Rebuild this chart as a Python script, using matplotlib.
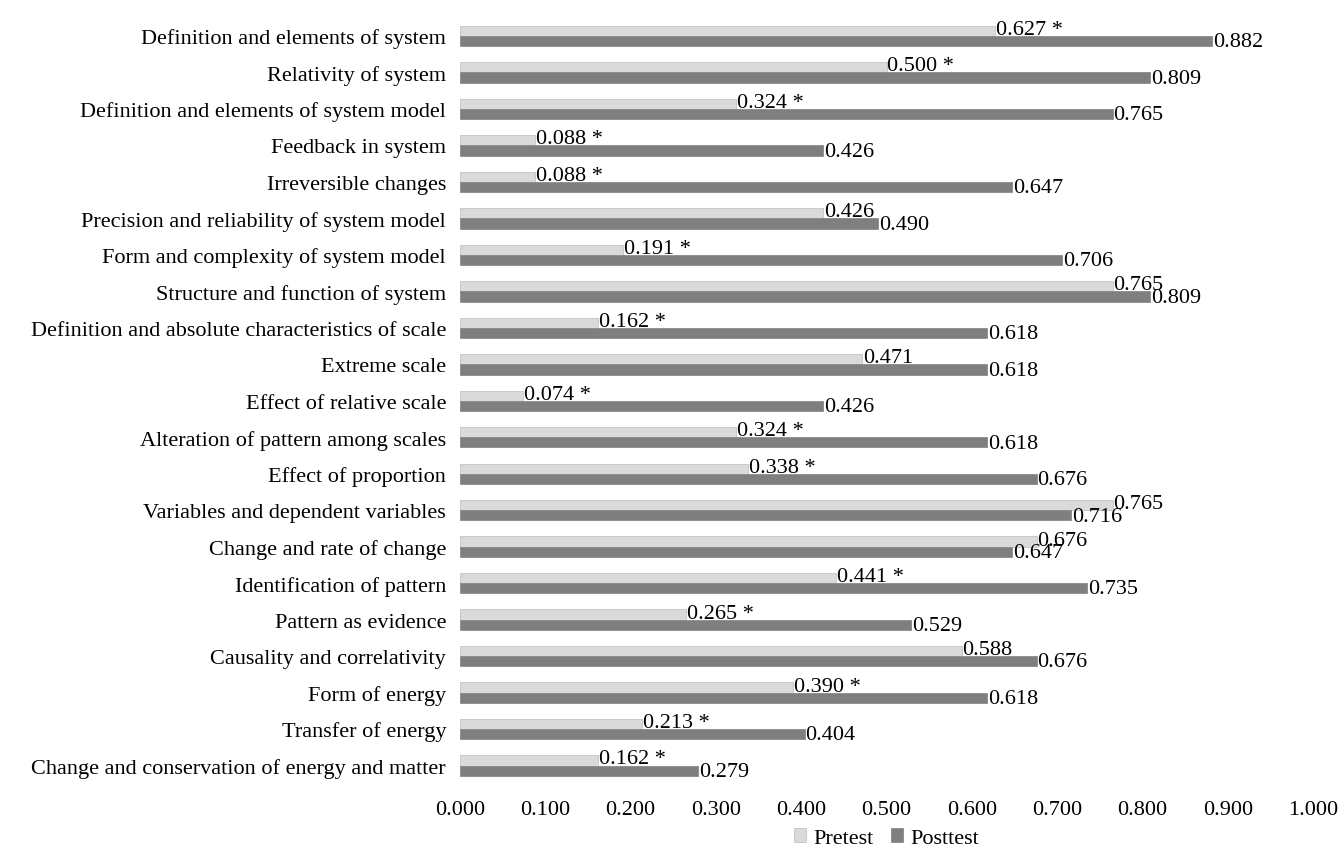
import matplotlib.pyplot as plt
import numpy as np

categories = [
    "Definition and elements of system",
    "Relativity of system",
    "Definition and elements of system model",
    "Feedback in system",
    "Irreversible changes",
    "Precision and reliability of system model",
    "Form and complexity of system model",
    "Structure and function of system",
    "Definition and absolute characteristics of scale",
    "Extreme scale",
    "Effect of relative scale",
    "Alteration of pattern among scales",
    "Effect of proportion",
    "Variables and dependent variables",
    "Change and rate of change",
    "Identification of pattern",
    "Pattern as evidence",
    "Causality and correlativity",
    "Form of energy",
    "Transfer of energy",
    "Change and conservation of energy and matter",
]

pretest = [0.627, 0.500, 0.324, 0.088, 0.088, 0.426, 0.191, 0.765, 0.162, 0.471,
           0.074, 0.324, 0.338, 0.765, 0.676, 0.441, 0.265, 0.588, 0.390, 0.213, 0.162]
posttest = [0.882, 0.809, 0.765, 0.426, 0.647, 0.490, 0.706, 0.809, 0.618, 0.618,
            0.426, 0.618, 0.676, 0.716, 0.647, 0.735, 0.529, 0.676, 0.618, 0.404, 0.279]
significant = [True, True, True, True, True, False, True, False, True, False,
               True, True, True, False, False, True, True, False, True, True, True]

plt.rcParams['font.family'] = ['Liberation Serif', 'DejaVu Serif']

fig = plt.figure(figsize=(13.43, 8.53), dpi=100)
ax = fig.add_axes([0.3425, 0.080, 0.6352, 0.898])

n = len(categories)
y = np.arange(n)[::-1]
h = 0.28

ax.barh(y + h / 2, pretest, height=h, color='#dadada', edgecolor='#c4c4c4', linewidth=0.6, label='Pretest')
ax.barh(y - h / 2, posttest, height=h, color='#7f7f7f', edgecolor='#8a8a8a', linewidth=0.6, label='Posttest')

fs = 16
for i in range(n):
    txt = f"{pretest[i]:.3f}" + (" *" if significant[i] else "")
    ax.text(pretest[i] + 0.001, y[i] + h / 2 + 0.04, txt, va='center', ha='left', fontsize=fs)
    ax.text(posttest[i] + 0.001, y[i] - h / 2 - 0.02, f"{posttest[i]:.3f}", va='center', ha='left', fontsize=fs)

ax.set_yticks(y)
ax.set_yticklabels(categories, fontsize=fs)
ax.set_xlim(0, 1.0)
ax.set_ylim(-0.5, n - 0.5)
ax.set_xticks(np.arange(0, 1.01, 0.1))
ax.set_xticklabels([f"{v:.3f}" for v in np.arange(0, 1.01, 0.1)], fontsize=fs)
ax.tick_params(length=0, pad=10)
ax.tick_params(axis='x', pad=12)
for s in ax.spines.values():
    s.set_visible(False)

ax.legend(loc='upper center', bbox_to_anchor=(0.5, -0.058), ncol=2, frameon=False,
          fontsize=fs, handlelength=0.55, handleheight=0.55, handletextpad=0.3,
          columnspacing=0.8, borderpad=0, borderaxespad=0)

fig.savefig("out.png", dpi=100)
